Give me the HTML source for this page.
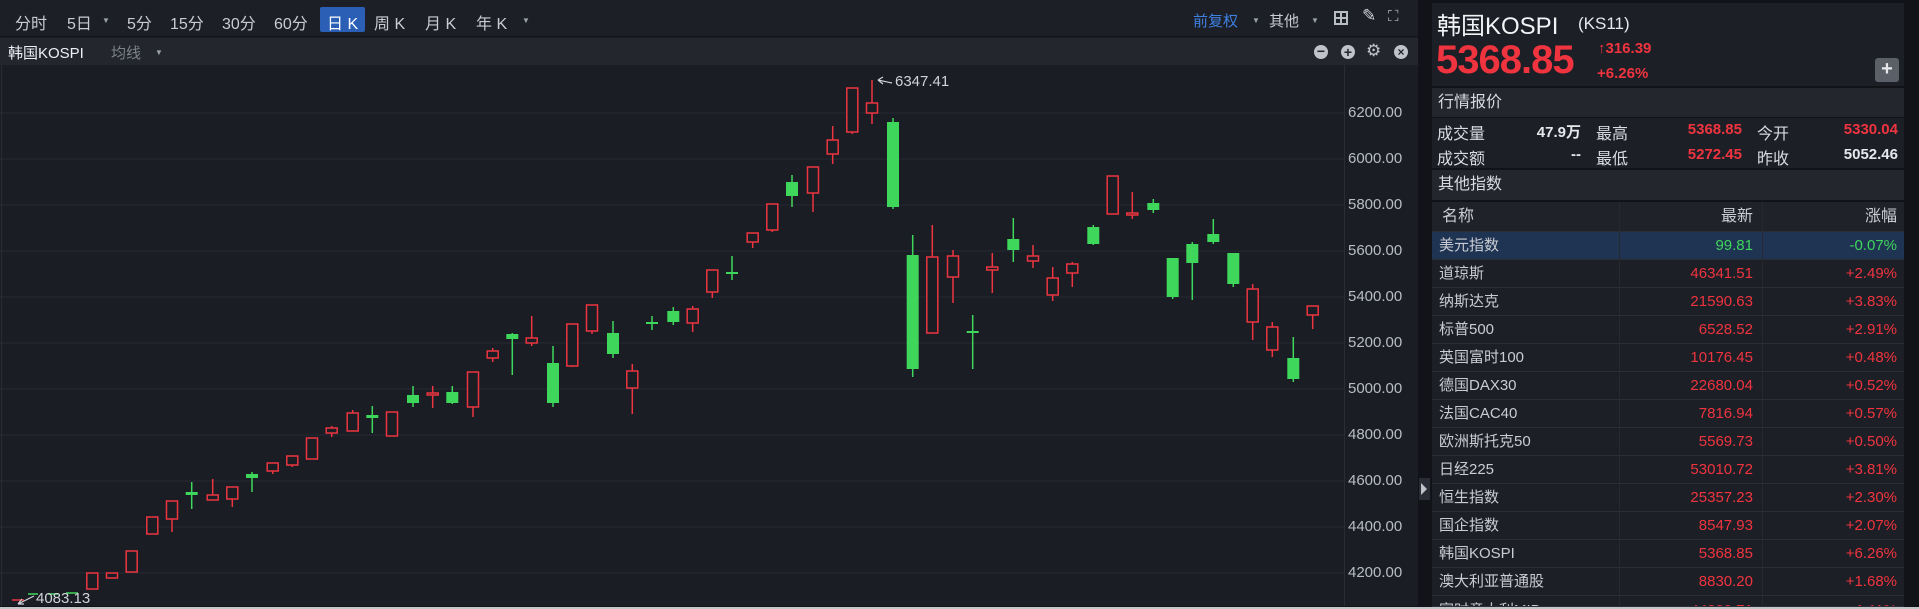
<!DOCTYPE html>
<html><head><meta charset="utf-8"><style>
*{margin:0;padding:0;box-sizing:border-box}
body{width:1919px;height:609px;background:#111318;position:relative;overflow:hidden;font-family:"Liberation Sans","Noto Sans CJK SC",sans-serif;color:#c9ccd3}
.a{position:absolute;white-space:nowrap}
.tb{font-size:16px;top:10px;color:#c9ccd3}
.chev{font-size:8px;color:#9aa0a8;top:16px}
.r{color:#f0343f}.g{color:#3fd65c}
.ax{font-size:15px;color:#b9bdc5;left:1348px}
.row{position:absolute;left:1432px;width:472px;height:28px;border-bottom:1px solid #2b2e36;font-size:15px;line-height:28px;overflow:hidden}
.row .n{position:absolute;left:7px}
.row .v{position:absolute;right:151px}
.row .p{position:absolute;right:7px}
</style></head><body>
<!-- left panel -->
<div class="a" style="left:0;top:0;width:1418px;height:606px;background:#1b1d24"></div>
<div class="a" style="left:0;top:0;width:1418px;height:37px;background:#1c1f26;border-bottom:1px solid #121418"></div>
<div class="a" style="left:0;top:38px;width:1418px;height:27px;background:#23262d"></div>
<div class="a tb" style="left:15px">分时</div>
<div class="a tb" style="left:67px">5日</div><div class="a chev" style="left:102px">&#9660;</div>
<div class="a tb" style="left:127px">5分</div>
<div class="a tb" style="left:170px">15分</div>
<div class="a tb" style="left:222px">30分</div>
<div class="a tb" style="left:274px">60分</div>
<div class="a" style="left:320px;top:7px;width:45px;height:25px;background:#2a5fb5;border-radius:2px"></div>
<div class="a tb" style="left:327px;color:#fff">日 K</div>
<div class="a tb" style="left:374px">周 K</div>
<div class="a tb" style="left:425px">月 K</div>
<div class="a tb" style="left:476px">年 K</div><div class="a chev" style="left:522px">&#9660;</div>
<div class="a" style="left:1193px;top:10px;font-size:15px;color:#3f7fe0">前复权</div><div class="a chev" style="left:1252px">&#9660;</div>
<div class="a" style="left:1269px;top:10px;font-size:15px;color:#c9ccd3">其他</div><div class="a chev" style="left:1311px">&#9660;</div>
<div class="a" style="left:1334px;top:11px;width:14px;height:14px;border:2px solid #b8bcc4;background:linear-gradient(#b8bcc4,#b8bcc4) 50% 0/2px 100% no-repeat,linear-gradient(#b8bcc4,#b8bcc4) 0 50%/100% 2px no-repeat"></div>
<div class="a" style="left:1362px;top:6px;font-size:17px;color:#d0d3d9">&#x270E;</div>
<div class="a" style="left:1388px;top:8px;font-size:15px;color:#b8bcc4">&#x26F6;</div>
<div class="a" style="left:8px;top:42px;font-size:15px;color:#eef0f3">韩国KOSPI</div>
<div class="a" style="left:111px;top:42px;font-size:15px;color:#7d828b">均线</div><div class="a chev" style="left:155px;top:48px">&#9660;</div>
<div class="a" style="left:1314px;top:45px;width:14px;height:14px;border-radius:50%;background:#c0c3c9;color:#23262d;font-size:14px;line-height:13px;text-align:center;font-weight:bold">−</div>
<div class="a" style="left:1341px;top:45px;width:14px;height:14px;border-radius:50%;background:#c0c3c9;color:#23262d;font-size:14px;line-height:14px;text-align:center;font-weight:bold">+</div>
<div class="a" style="left:1366px;top:41px;font-size:17px;color:#c0c3c9">&#x2699;</div>
<div class="a" style="left:1394px;top:45px;width:14px;height:14px;border-radius:50%;background:#c0c3c9;color:#23262d;font-size:12px;line-height:14px;text-align:center;font-weight:bold">×</div>

<svg class="a" style="left:0;top:0" width="1418" height="606">
<g stroke="#262932" stroke-width="1">
<path d="M0 113H1344M0 159H1344M0 205H1344M0 251H1344M0 297H1344M0 343H1344M0 389H1344M0 435H1344M0 481H1344M0 527H1344M0 573H1344"/>
</g>
<path d="M1344.5 65V606" stroke="#2a2d35"/>
<path d="M1.5 65V606" stroke="#2a2d35"/>
<g stroke="#ec3540" stroke-width="1.5" fill="none">
<path d="M12 600H24M92.3 573V589M112 573V578M131.7 551V572M152.3 517V534M172 501V532M212.7 479V500M232.3 487V507M272.7 463V474M292.3 456V467M312 438V459M331.7 426V437M352.7 410V431M392 412V436M432.7 386V408M473 372V417M492.7 348V362M531.7 316V346M572.3 324V367M592 305V334M632.3 364V414M692.7 306V332M712.3 270V298M752.7 233V248M772.3 204V232M813 167V212M832.7 126V164M852.3 88V134M872 80V124M932.3 225V333M953 250V303M992.3 253V293M1033 245V268M1052.7 267V301M1072.3 262V287M1112.7 176V214M1132.3 192V219M1252.7 284V340M1272.3 322V357M1312.7 306V329"/>
</g>
<g stroke="#ec3540" stroke-width="1.5" fill="#1b1d24">
<rect x="86.8" y="573" width="11" height="16"/><rect x="106.5" y="573" width="11" height="5"/><rect x="126.2" y="551" width="11" height="21"/><rect x="146.8" y="517" width="11" height="17"/><rect x="166.5" y="501" width="11" height="18"/><rect x="207.2" y="495" width="11" height="5"/><rect x="226.8" y="487" width="11" height="12"/><rect x="267.2" y="463" width="11" height="8"/><rect x="286.8" y="456" width="11" height="9"/><rect x="306.5" y="438" width="11" height="21"/><rect x="326.2" y="428" width="11" height="5"/><rect x="347.2" y="413" width="11" height="18"/><rect x="386.5" y="412" width="11" height="24"/><rect x="427.2" y="393" width="11" height="2"/><rect x="467.5" y="372" width="11" height="35"/><rect x="487.2" y="351" width="11" height="7"/><rect x="526.2" y="338" width="11" height="5"/><rect x="566.8" y="324" width="11" height="42"/><rect x="586.5" y="305" width="11" height="26"/><rect x="626.8" y="371" width="11" height="17"/><rect x="687.2" y="309" width="11" height="14"/><rect x="706.8" y="270" width="11" height="22"/><rect x="747.2" y="233" width="11" height="9"/><rect x="766.8" y="204" width="11" height="26"/><rect x="807.5" y="167" width="11" height="26"/><rect x="827.2" y="140" width="11" height="14"/><rect x="846.8" y="88" width="11" height="44"/><rect x="866.5" y="103" width="11" height="10"/><rect x="926.8" y="257" width="11" height="76"/><rect x="947.5" y="256" width="11" height="21"/><rect x="986.8" y="267" width="11" height="3"/><rect x="1027.5" y="256" width="11" height="5"/><rect x="1047.2" y="278" width="11" height="17"/><rect x="1066.8" y="264" width="11" height="9"/><rect x="1107.2" y="176" width="11" height="38"/><rect x="1126.8" y="213" width="11" height="2"/><rect x="1247.2" y="289" width="11" height="33"/><rect x="1266.8" y="327" width="11" height="23"/><rect x="1307.2" y="306" width="11" height="9"/>
</g>
<g stroke="#3fd65c" stroke-width="1.5">
<path d="M28 594H38M48 594H58M66 593H78M191.7 482V509M252 472V492M372.3 406V433M413 386V407M452.3 386V404M512.3 333V375M553 346V407M613 321V358M652 316V330M673.3 307V325M732 256V280M792 175V207M893 118V209M912.7 235V377M972.7 315V369M1013.3 218V262M1093.3 225V245M1153.3 199V213M1172.7 258V299M1192.3 242V300M1213.3 219V244M1233.3 253V287M1293.3 337V382"/>
</g>
<g fill="#3fd65c">
<rect x="185.7" y="492" width="12" height="3"/><rect x="246" y="474" width="12" height="4"/><rect x="366.3" y="415" width="12" height="3"/><rect x="407" y="395" width="12" height="8"/><rect x="446.3" y="392" width="12" height="11"/><rect x="506.3" y="334" width="12" height="5"/><rect x="547" y="363" width="12" height="40"/><rect x="607" y="333" width="12" height="21"/><rect x="646" y="322" width="12" height="2"/><rect x="667.3" y="311" width="12" height="11"/><rect x="726" y="272" width="12" height="2"/><rect x="786" y="182" width="12" height="14"/><rect x="887" y="122" width="12" height="85"/><rect x="906.7" y="255" width="12" height="114"/><rect x="966.7" y="331" width="12" height="2"/><rect x="1007.3" y="239" width="12" height="11"/><rect x="1087.3" y="227" width="12" height="17"/><rect x="1147.3" y="203" width="12" height="7"/><rect x="1166.7" y="258" width="12" height="39"/><rect x="1186.3" y="244" width="12" height="19"/><rect x="1207.3" y="234" width="12" height="8"/><rect x="1227.3" y="253" width="12" height="31"/><rect x="1287.3" y="358" width="12" height="21"/>
</g>
<path d="M878 80L892 83M878 80L883 77M878 80L883 84" stroke="#d0d3d9" stroke-width="1.2" fill="none"/>
<text x="895" y="86" font-size="15" fill="#d0d3d9" font-family="Liberation Sans">6347.41</text>
<path d="M18 604L34 596M18 604L22 599M18 604L24 604" stroke="#d0d3d9" stroke-width="1.2" fill="none"/>
<text x="36" y="603" font-size="15" fill="#d0d3d9" font-family="Liberation Sans">4083.13</text>
</svg>
<div class="a ax" style="top:104px">6200.00</div>
<div class="a ax" style="top:150px">6000.00</div>
<div class="a ax" style="top:196px">5800.00</div>
<div class="a ax" style="top:242px">5600.00</div>
<div class="a ax" style="top:288px">5400.00</div>
<div class="a ax" style="top:334px">5200.00</div>
<div class="a ax" style="top:380px">5000.00</div>
<div class="a ax" style="top:426px">4800.00</div>
<div class="a ax" style="top:472px">4600.00</div>
<div class="a ax" style="top:518px">4400.00</div>
<div class="a ax" style="top:564px">4200.00</div>
<div class="a" style="left:1419px;top:478px;width:11px;height:22px;background:#2a2d35"></div>
<div class="a" style="left:1421px;top:483px;width:0;height:0;border-left:6px solid #c0c3c9;border-top:6px solid transparent;border-bottom:6px solid transparent"></div>

<!-- right panel -->
<div class="a" style="left:1432px;top:3px;width:472px;height:83px;background:#1c1f26"></div>
<div class="a" style="left:1437px;top:6px;font-size:24px;color:#f2f3f5">韩国KOSPI</div>
<div class="a" style="left:1578px;top:14px;font-size:17px;color:#e6e8eb">(KS11)</div>
<div class="a r" style="left:1436px;top:38px;font-size:40px;font-weight:bold;letter-spacing:-1px">5368.85</div>
<div class="a r" style="left:1598px;top:40px;font-size:15px;font-weight:bold">&#x2191;316.39</div>
<div class="a r" style="left:1597px;top:65px;font-size:15px;font-weight:bold">+6.26%</div>
<div class="a" style="left:1875px;top:58px;width:24px;height:24px;border-radius:3px;background:#5b5f67;color:#e6e8eb;font-size:20px;line-height:23px;text-align:center;font-weight:bold">+</div>
<div class="a" style="left:1432px;top:88px;width:472px;height:29px;background:#23262d;font-size:16px;line-height:29px;padding-left:6px;color:#d8dbe0">行情报价</div>
<div class="a" style="left:1432px;top:118px;width:472px;height:50px;background:#1c1f26;font-size:15px"></div>
<div class="a" style="left:1437px;top:120px;font-size:16px;color:#d8dbe0">成交量</div>
<div class="a" style="left:1437px;top:145px;font-size:16px;color:#d8dbe0">成交额</div>
<div class="a" style="right:338px;top:121px;font-size:15px;font-weight:bold;color:#e6e8eb">47.9万</div>
<div class="a" style="right:338px;top:146px;font-size:15px;font-weight:bold;color:#e6e8eb">--</div>
<div class="a" style="left:1596px;top:120px;font-size:16px;color:#d8dbe0">最高</div>
<div class="a" style="left:1596px;top:145px;font-size:16px;color:#d8dbe0">最低</div>
<div class="a r" style="right:177px;top:121px;font-size:15px;font-weight:bold">5368.85</div>
<div class="a r" style="right:177px;top:146px;font-size:15px;font-weight:bold">5272.45</div>
<div class="a" style="left:1757px;top:120px;font-size:16px;color:#d8dbe0">今开</div>
<div class="a" style="left:1757px;top:145px;font-size:16px;color:#d8dbe0">昨收</div>
<div class="a r" style="right:21px;top:121px;font-size:15px;font-weight:bold">5330.04</div>
<div class="a" style="right:21px;top:146px;font-size:15px;font-weight:bold;color:#e6e8eb">5052.46</div>
<div class="a" style="left:1432px;top:170px;width:472px;height:30px;background:#23262d;font-size:16px;line-height:30px;padding-left:6px;color:#d8dbe0">其他指数</div>
<div class="row" style="top:202px;height:30px;line-height:30px;background:#1f2229;color:#c9ccd3;font-size:16px"><span class="n" style="left:10px">名称</span><span class="v">最新</span><span class="p">涨幅</span></div>
<div class="row" style="top:232px;background:#1f3352"><span class="n">美元指数</span><span class="v g">99.81</span><span class="p g">-0.07%</span></div>
<div class="row" style="top:260px;background:#1c1f26"><span class="n">道琼斯</span><span class="v r">46341.51</span><span class="p r">+2.49%</span></div>
<div class="row" style="top:288px;background:#1c1f26"><span class="n">纳斯达克</span><span class="v r">21590.63</span><span class="p r">+3.83%</span></div>
<div class="row" style="top:316px;background:#1c1f26"><span class="n">标普500</span><span class="v r">6528.52</span><span class="p r">+2.91%</span></div>
<div class="row" style="top:344px;background:#1c1f26"><span class="n">英国富时100</span><span class="v r">10176.45</span><span class="p r">+0.48%</span></div>
<div class="row" style="top:372px;background:#1c1f26"><span class="n">德国DAX30</span><span class="v r">22680.04</span><span class="p r">+0.52%</span></div>
<div class="row" style="top:400px;background:#1c1f26"><span class="n">法国CAC40</span><span class="v r">7816.94</span><span class="p r">+0.57%</span></div>
<div class="row" style="top:428px;background:#1c1f26"><span class="n">欧洲斯托克50</span><span class="v r">5569.73</span><span class="p r">+0.50%</span></div>
<div class="row" style="top:456px;background:#1c1f26"><span class="n">日经225</span><span class="v r">53010.72</span><span class="p r">+3.81%</span></div>
<div class="row" style="top:484px;background:#1c1f26"><span class="n">恒生指数</span><span class="v r">25357.23</span><span class="p r">+2.30%</span></div>
<div class="row" style="top:512px;background:#1c1f26"><span class="n">国企指数</span><span class="v r">8547.93</span><span class="p r">+2.07%</span></div>
<div class="row" style="top:540px;background:#1c1f26"><span class="n">韩国KOSPI</span><span class="v r">5368.85</span><span class="p r">+6.26%</span></div>
<div class="row" style="top:568px;background:#1c1f26"><span class="n">澳大利亚普通股</span><span class="v r">8830.20</span><span class="p r">+1.68%</span></div>
<div class="row" style="top:596px;height:11px;background:#1c1f26;line-height:30px"><span class="n">富时意大利MIB</span><span class="v r">44299.71</span><span class="p r">+1.11%</span></div>
<div class="a" style="left:1619px;top:202px;width:1px;height:405px;background:#262930"></div>
<div class="a" style="left:1762px;top:202px;width:1px;height:405px;background:#262930"></div>
<div class="a" style="left:0;top:607px;width:1919px;height:2px;background:#c4c6ca"></div>
</body></html>
